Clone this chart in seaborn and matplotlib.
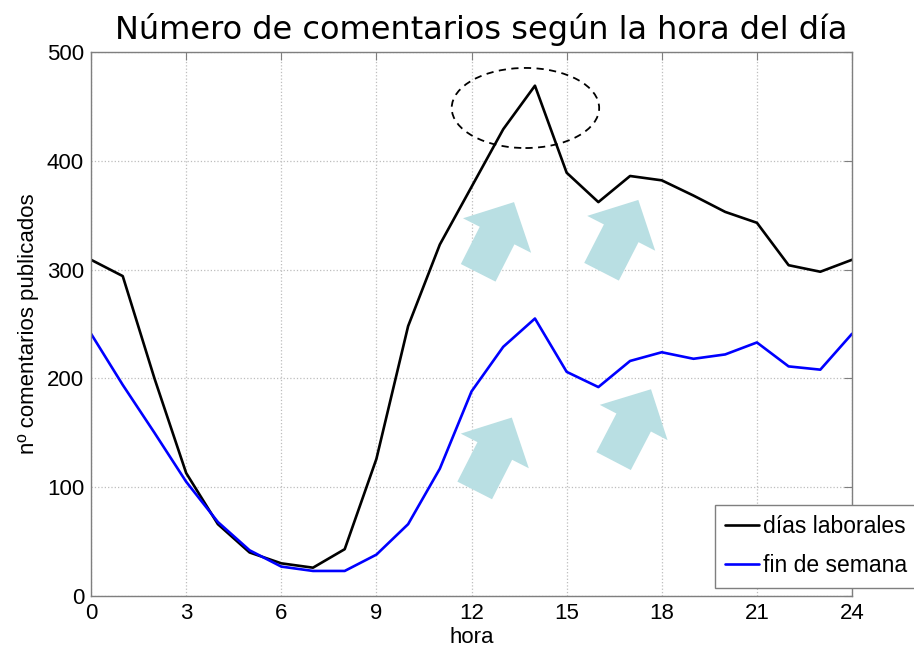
import matplotlib as mpl
mpl.use("Agg")
import matplotlib.pyplot as plt
from matplotlib.patches import Ellipse
import numpy as np
import pandas as pd
import seaborn as sns

# hours of the day
horas = list(range(25))
# weekday comments per hour
laborales = [309, 294, 200, 113, 66, 40, 30, 26, 43, 126, 248, 323, 376, 429, 469,
             389, 362, 386, 382, 368, 353, 343, 304, 298, 309]
# weekend comments per hour
fin_semana = [241, 194, 150, 105, 68, 42, 27, 23, 23, 38, 66, 117, 188, 229, 255,
              206, 192, 216, 224, 218, 222, 233, 211, 208, 241]
series_names = ["días laborales", "fin de semana"]
series_colors = ["black", "#0000ff"]

# annotation arrows: (tail x, tail y, tip x, tip y) in data units
arrows = [
    (12.21, 297, 13.34, 362),
    (16.10, 298, 17.26, 364),
    (12.10, 97, 13.27, 164),
    (16.48, 124, 17.66, 190),
]

df = pd.DataFrame({
    "hora": horas * 2,
    "n": laborales + fin_semana,
    "serie": [series_names[0]] * len(horas) + [series_names[1]] * len(horas),
})

sns.set_style("white")
plt.rcParams["font.family"] = ["Liberation Sans", "DejaVu Sans"]
plt.rcParams["text.color"] = "black"
plt.rcParams["axes.labelcolor"] = "black"
plt.rcParams["xtick.color"] = "black"
plt.rcParams["ytick.color"] = "black"

fig = plt.figure(figsize=(9.14, 6.56), dpi=100)
ax = fig.add_axes([0.0996, 0.0915, 0.8326, 0.8293])

ax.grid(True, linestyle=":", color="#bdbdbd", linewidth=0.9)

sns.lineplot(data=df, x="hora", y="n", hue="serie", palette=series_colors,
             linewidth=1.9, ax=ax, legend=False)

# light blue block arrows
for x0, y0, x1, y1 in arrows:
    ax.annotate("", xy=(x1, y1), xytext=(x0, y0),
                arrowprops=dict(arrowstyle="simple,head_length=27,head_width=55,tail_width=28",
                                mutation_scale=1, color="#b9dfe3", shrinkA=0, shrinkB=0,
                                linewidth=0))

# dashed ellipse around the peak
ax.add_patch(Ellipse((13.70, 448.5), 4.65, 73.6, fill=False, linestyle=(0, (4, 3)),
                     edgecolor="black", linewidth=1.3, zorder=5))

ax.set_xlim(0, 24)
ax.set_ylim(0, 500)
ax.set_xticks(range(0, 25, 3))
ax.set_yticks(range(0, 501, 100))
ax.tick_params(direction="in", length=5.5, width=0.8, color="#7f7f7f",
               labelcolor="black", top=True, right=True, labelsize=16, pad=5)
for s in ax.spines.values():
    s.set_visible(True)
    s.set_color("#7f7f7f")
    s.set_linewidth(1.0)

ax.set_xlabel("hora", fontsize=16, labelpad=2, color="black")
ax.set_ylabel("nº comentarios publicados", fontsize=16, labelpad=6, color="black")
fig.suptitle("Número de comentarios según la hora del día", fontsize=23,
             family="DejaVu Sans", color="black", x=0.526, y=0.94, va="baseline")

handles = [plt.Line2D([], [], color=c, lw=1.9) for c in series_colors]
leg = fig.legend(handles, series_names, loc="upper left",
                 bbox_to_anchor=(0.782, 0.230), borderaxespad=0, fontsize=16.5,
                 handlelength=1.5, handletextpad=0.15, borderpad=0.45,
                 labelspacing=0.7, fancybox=False, framealpha=1)
leg.get_frame().set_edgecolor("#7f7f7f")
leg.get_frame().set_linewidth(1.0)
for t in leg.get_texts():
    t.set_color("black")

fig.savefig("out.png", dpi=100)
